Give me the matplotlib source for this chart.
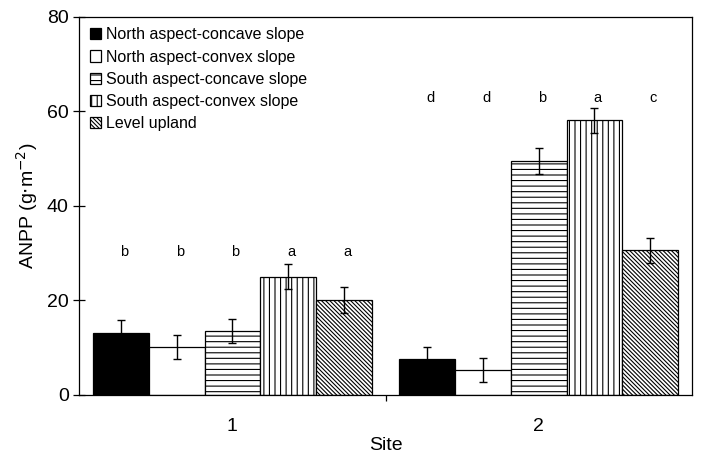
import numpy as np
import matplotlib.pyplot as plt

plt.rcParams['font.family'] = ['Liberation Sans', 'DejaVu Sans']
plt.rcParams['hatch.linewidth'] = 0.8

# Datos
sitios = ['1', '2']
series = ['North aspect-concave slope', 'North aspect-convex slope',
          'South aspect-concave slope', 'South aspect-convex slope',
          'Level upland']
anpp = [[13.1, 7.6],
        [10.1, 5.2],
        [13.5, 49.5],
        [25.0, 58.1],
        [20.1, 30.6]]
error = [[2.7, 2.6],
         [2.6, 2.5],
         [2.6, 2.7],
         [2.7, 2.6],
         [2.7, 2.6]]
letras = [['b', 'd'],
          ['b', 'd'],
          ['b', 'b'],
          ['a', 'a'],
          ['a', 'c']]
altura_letras = [30.3, 62.9]

colores = ['black', 'white', 'white', 'white', 'white']
tramas = ['', '', '---', '|||', '\\' * 8]

fig, ax = plt.subplots(figsize=(7.01, 4.58), dpi=100)
fig.subplots_adjust(left=0.113, right=0.987, bottom=0.138, top=0.963)

x = np.arange(1, len(sitios) + 1)
ancho = 0.182
for i in range(len(series)):
    pos = x + (i - 2) * ancho
    ax.bar(pos, anpp[i], width=ancho, color=colores[i], edgecolor='black',
           linewidth=0.9, hatch=tramas[i], label=series[i])
    ax.errorbar(pos, anpp[i], yerr=error[i], fmt='none', ecolor='black',
                elinewidth=1, capsize=3, capthick=1)
    for j in range(len(sitios)):
        ax.text(pos[j] + 0.01, altura_letras[j], letras[i][j], ha='center', va='center',
                fontsize=10.5)

ax.set_xlim(0.5, 2.5)
ax.set_ylim(0, 80)
ax.set_yticks([0, 20, 40, 60, 80])
ax.tick_params(axis='y', direction='inout', length=8, labelsize=14, width=0.9)
ax.set_xticks(x)
ax.set_xticklabels(sitios, fontsize=14)
ax.tick_params(axis='x', length=0, pad=17)
# marca separadora entre sitios
ax.set_xticks([1.5], minor=True)
ax.tick_params(axis='x', which='minor', direction='out', length=4, width=0.9)

for s in ax.spines.values():
    s.set_linewidth(0.9)

ax.set_xlabel('Site', fontsize=14, labelpad=1)
ax.set_ylabel('ANPP (g$\\cdot$m$^{-2}$)', fontsize=14, labelpad=5)

ax.legend(loc='upper left', frameon=False, fontsize=11.5, handlelength=0.7,
          handleheight=0.7, handletextpad=0.3, labelspacing=0.45,
          borderaxespad=0.45, borderpad=0.2)

plt.savefig('out.png', dpi=100)
